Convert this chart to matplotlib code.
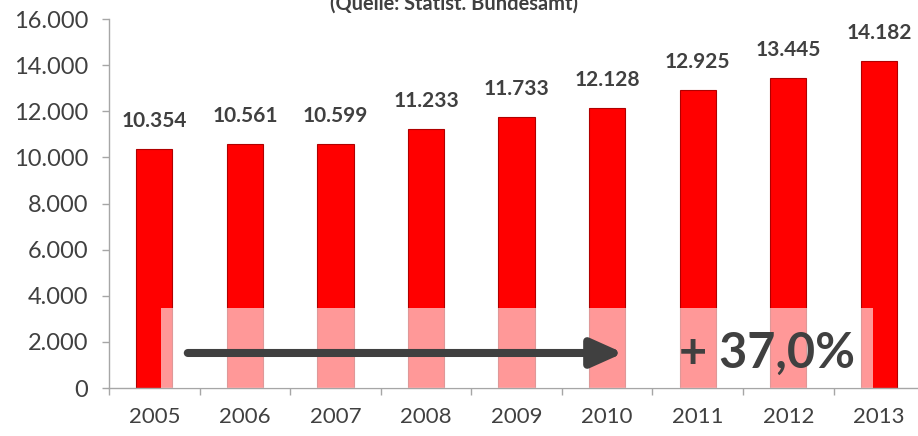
import numpy as np
import matplotlib
matplotlib.use('Agg')
import matplotlib.pyplot as plt
from matplotlib.patches import Rectangle

plt.rcParams['font.family'] = ['Lato', 'DejaVu Sans']

# data
years = ['2005', '2006', '2007', '2008', '2009', '2010', '2011', '2012', '2013']
values = [10354, 10561, 10599, 11233, 11733, 12128, 12925, 13445, 14182]
value_labels = ['10.354', '10.561', '10.599', '11.233', '11.733',
                '12.128', '12.925', '13.445', '14.182']
yticks = [0, 2000, 4000, 6000, 8000, 10000, 12000, 14000, 16000]
ytick_labels = ['0', '2.000', '4.000', '6.000', '8.000', '10.000',
                '12.000', '14.000', '16.000']
source = '(Quelle: Statist. Bundesamt)'
growth = '+ 37,0%'

text_col = '#404040'
axis_col = '#a6a6a6'

fig = plt.figure(figsize=(9.18, 4.36), dpi=100)
ax = fig.add_axes([0.1187, 0.110, 0.888, 0.8463])

x = np.arange(len(years))
ax.bar(x, values, width=0.4, color='#ff0000', edgecolor='#b00000',
       linewidth=0.8, zorder=2)

for xi, v, lab in zip(x, values, value_labels):
    ax.annotate(lab, (xi, v), xytext=(0, 13), textcoords='offset points',
                ha='center', va='bottom', fontsize=15, fontweight='bold',
                color=text_col)

ax.set_xlim(-0.5, 8.5)
ax.set_ylim(0, 16000)

ax.set_yticks(yticks)
ax.set_yticklabels(ytick_labels)
ax.set_xticks(x)
ax.set_xticklabels(years)
ax.set_xticks(np.arange(-0.5, 8.5, 1.0), minor=True)
ax.tick_params(axis='x', which='major', length=0, pad=14, labelsize=16,
               labelcolor=text_col)
ax.tick_params(axis='x', which='minor', length=5, color=axis_col, width=1)
ax.tick_params(axis='y', length=5, color=axis_col, width=1, labelsize=17,
               labelcolor=text_col, pad=10)
for s in ['top', 'right']:
    ax.spines[s].set_visible(False)
for s in ['left', 'bottom']:
    ax.spines[s].set_color(axis_col)
    ax.spines[s].set_linewidth(1)

# light overlay box over the lower part
ax.add_patch(Rectangle((0.075, 0), 7.855, 3480, facecolor='white',
                       alpha=0.6, edgecolor='none', zorder=3, clip_on=False))

# growth arrow
ax.annotate('', xy=(5.18, 1520), xytext=(0.37, 1520),
            arrowprops=dict(arrowstyle='-|>,head_length=1.9,head_width=0.85',
                            mutation_scale=10, lw=5.8, color=text_col,
                            shrinkA=0, shrinkB=0), zorder=4)
ax.text(6.76, 1500, growth, ha='center', va='center', fontsize=35,
        fontweight='bold', color=text_col, zorder=4)

# source line, cut at the top edge as in the original
fig.text(0.495, 0.978, source, ha='center', va='baseline', fontsize=14.4,
         fontweight='bold', color=text_col)

fig.savefig('out.png', dpi=100)
